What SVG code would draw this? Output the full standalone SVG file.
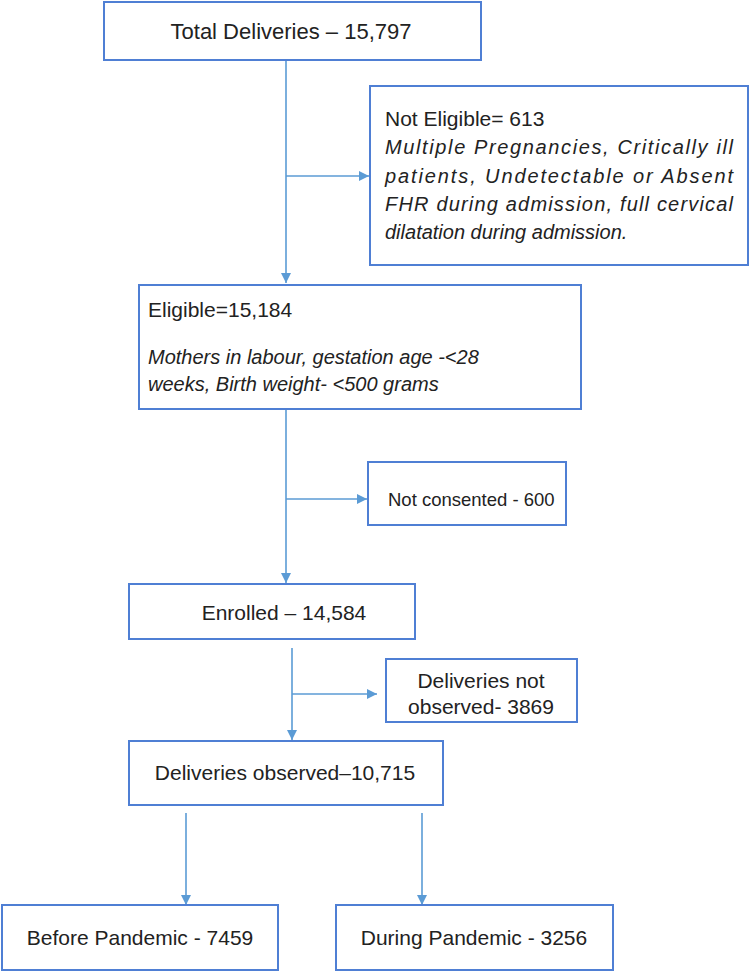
<svg xmlns="http://www.w3.org/2000/svg" width="750" height="972" viewBox="0 0 750 972">
<defs>
<marker id="ah" markerWidth="10" markerHeight="10" refX="10" refY="5" orient="auto" markerUnits="userSpaceOnUse">
<path d="M0,0 L10,5 L0,10 Z" fill="#5b9bd5"/>
</marker>
<style>
.box{fill:#fff;stroke:#4f7fd4;stroke-width:2}
.ln{fill:none;stroke:#5b9bd5;stroke-width:1.6}
.t{font-family:"Liberation Sans",Arial,sans-serif;font-size:21px;fill:#222}
.i{font-style:italic;font-size:20px}
.m{text-anchor:middle}
</style>
</defs>
<rect width="750" height="972" fill="#fff"/>
<g id="connectors">
<line class="ln" x1="286" y1="60" x2="286" y2="283" marker-end="url(#ah)"/>
<line class="ln" x1="286" y1="176" x2="369" y2="176" marker-end="url(#ah)"/>
<line class="ln" x1="286" y1="409" x2="286" y2="583" marker-end="url(#ah)"/>
<line class="ln" x1="286" y1="499" x2="367" y2="499" marker-end="url(#ah)"/>
<line class="ln" x1="292" y1="648" x2="292" y2="740" marker-end="url(#ah)"/>
<line class="ln" x1="292" y1="694" x2="377" y2="694" marker-end="url(#ah)"/>
<line class="ln" x1="186" y1="813" x2="186" y2="905" marker-end="url(#ah)"/>
<line class="ln" x1="422" y1="813" x2="422" y2="905" marker-end="url(#ah)"/>
</g>
<g id="total">
<rect class="box" x="104" y="2" width="377" height="58"/>
<text class="t m" x="291" y="39" style="font-size:22px">Total Deliveries – 15,797</text>
</g>
<g id="not-eligible">
<rect class="box" x="370" y="86" width="378" height="179"/>
<text class="t" x="385" y="126">Not Eligible= 613</text>
<text class="t i" x="385" y="154" textLength="348" lengthAdjust="spacing">Multiple Pregnancies, Critically ill</text>
<text class="t i" x="385" y="183" textLength="348" lengthAdjust="spacing">patients, Undetectable or Absent</text>
<text class="t i" x="385" y="211" textLength="348" lengthAdjust="spacing">FHR during admission, full cervical</text>
<text class="t i" x="385" y="239">dilatation during admission.</text>
</g>
<g id="eligible">
<rect class="box" x="139" y="285" width="442" height="124"/>
<text class="t" x="148" y="317">Eligible=15,184</text>
<text class="t i" x="148" y="364">Mothers in labour, gestation age -&lt;28</text>
<text class="t i" x="148" y="391">weeks, Birth weight- &lt;500 grams</text>
</g>
<g id="not-consented">
<rect class="box" x="368" y="462" width="198" height="63"/>
<text class="t" x="388" y="506" style="font-size:18.5px">Not consented - 600</text>
</g>
<g id="enrolled">
<rect class="box" x="129" y="584" width="286" height="55"/>
<text class="t m" x="284" y="620">Enrolled – 14,584</text>
</g>
<g id="not-observed">
<rect class="box" x="386" y="659" width="191" height="63"/>
<text class="t m" x="481" y="688">Deliveries not</text>
<text class="t m" x="481" y="714">observed- 3869</text>
</g>
<g id="observed">
<rect class="box" x="129" y="741" width="314" height="64"/>
<text class="t m" x="285" y="780">Deliveries observed–10,715</text>
</g>
<g id="before">
<rect class="box" x="2" y="905" width="276" height="65"/>
<text class="t m" x="140" y="945">Before Pandemic - 7459</text>
</g>
<g id="during">
<rect class="box" x="336" y="905" width="277" height="65"/>
<text class="t m" x="474" y="945">During Pandemic - 3256</text>
</g>
</svg>
